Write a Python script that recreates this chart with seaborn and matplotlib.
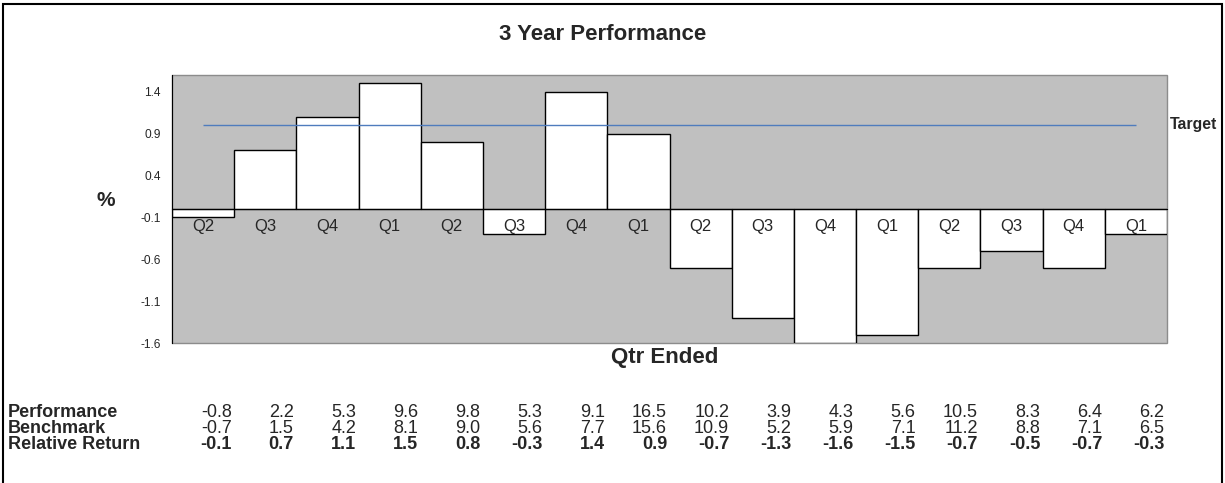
import numpy as np
import pandas as pd
import seaborn as sns
import matplotlib.pyplot as plt
from matplotlib import transforms, patches

# quarter labels under the zero line
quarters = ["Q2", "Q3", "Q4", "Q1", "Q2", "Q3", "Q4", "Q1",
            "Q2", "Q3", "Q4", "Q1", "Q2", "Q3", "Q4", "Q1"]
performance = [-0.8, 2.2, 5.3, 9.6, 9.8, 5.3, 9.1, 16.5,
               10.2, 3.9, 4.3, 5.6, 10.5, 8.3, 6.4, 6.2]
benchmark = [-0.7, 1.5, 4.2, 8.1, 9.0, 5.6, 7.7, 15.6,
             10.9, 5.2, 5.9, 7.1, 11.2, 8.8, 7.1, 6.5]
relative = [-0.1, 0.7, 1.1, 1.5, 0.8, -0.3, 1.4, 0.9,
            -0.7, -1.3, -1.6, -1.5, -0.7, -0.5, -0.7, -0.3]
target = 1.0
yticks = [-1.6, -1.1, -0.6, -0.1, 0.4, 0.9, 1.4]


def draw_chart():
    sns.set_style("white")
    plt.rcParams["font.family"] = ["Liberation Sans", "DejaVu Sans"]

    fig = plt.figure(figsize=(12.25, 4.83), dpi=100)
    ax = fig.add_axes([172 / 1225, 1 - 343 / 483, 995 / 1225, 268 / 483])
    ax.set_facecolor("#c0c0c0")

    df = pd.DataFrame({"pos": range(len(quarters)), "rel": relative})
    sns.barplot(data=df, x="pos", y="rel", color="white", saturation=1,
                edgecolor="black", linewidth=1, width=1.0, errorbar=None, ax=ax)

    # target line runs from first to last bar centre
    ax.hlines(target, 0, len(quarters) - 1, color="#4f7cbd", linewidth=1, zorder=3)

    ax.set_ylim(-1.6, 1.6)
    ax.set_xlim(-0.5, len(quarters) - 0.5)
    ax.set_yticks(yticks)
    ax.set_yticklabels([f"{v:.1f}" for v in yticks], fontsize=8.6)
    ax.tick_params(axis="y", direction="out", length=4, width=1, color="black", pad=4)

    # category axis sits on zero, ticks between bars, labels at centres
    ax.spines["bottom"].set_position(("data", 0))
    ax.spines["bottom"].set_color("black")
    ax.spines["bottom"].set_zorder(5)
    ax.spines["left"].set_color("black")
    ax.spines["top"].set_visible(False)
    ax.spines["right"].set_visible(False)
    ax.add_patch(patches.Rectangle((0, 0), 1, 1, transform=ax.transAxes, fill=False,
                                   edgecolor="#8c8c8c", linewidth=1, clip_on=False, zorder=0.5))
    ax.set_xticks(np.arange(len(quarters) + 1) - 0.5)
    ax.set_xticklabels([])
    ax.set_xticks(np.arange(len(quarters)), minor=True)
    ax.set_xticklabels(quarters, minor=True, fontsize=12)
    ax.tick_params(axis="x", which="major", direction="out", length=5, color="black")
    ax.tick_params(axis="x", which="minor", length=0, pad=7)
    ax.xaxis.set_zorder(5)
    ax.set_xlabel("")
    ax.set_ylabel("")

    fig.text(603 / 1225, 1 - 35 / 483, "3 Year Performance", fontsize=16,
             fontweight="bold", ha="center", va="center")
    fig.text(665 / 1225, 1 - 357 / 483, "Qtr Ended", fontsize=16,
             fontweight="bold", ha="center", va="center")
    fig.text(106 / 1225, 1 - 201 / 483, "%", fontsize=15,
             fontweight="bold", ha="center", va="center")
    fig.text(1170 / 1225, 1 - 125 / 483, "Target", fontsize=11.4,
             fontweight="bold", ha="left", va="center")

    # data table below the chart, columns follow the bar positions
    trans = transforms.blended_transform_factory(ax.transData, fig.transFigure)
    rows = [("Performance", performance, "normal", 417),
            ("Benchmark", benchmark, "normal", 433),
            ("Relative Return", relative, "bold", 449)]
    for name, values, weight, base in rows:
        yf = 1 - base / 483
        fig.text(8 / 1225, yf, name, fontsize=13, fontweight="bold",
                 ha="left", va="baseline")
        for i, v in enumerate(values):
            ax.text(i + 0.46, yf, f"{v:.1f}", transform=trans, fontsize=13,
                    fontweight=weight, ha="right", va="baseline", clip_on=False)

    # outer frame of the whole figure
    fig.patches.append(patches.Rectangle((3 / 1225, -0.02), 1219 / 1225, 1 - 4 / 483 + 0.02,
                                         transform=fig.transFigure, fill=False,
                                         edgecolor="black", linewidth=1.5))

    fig.savefig("out.png", dpi=100)


if __name__ == "__main__":
    draw_chart()
